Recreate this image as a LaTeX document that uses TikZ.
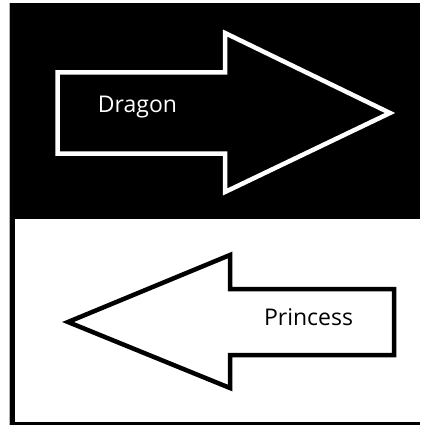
\documentclass[tikz,border=0pt]{standalone}
\usepackage{fontspec}
\setmainfont{Open Sans}
\begin{document}
\begin{tikzpicture}[x=1pt,y=-1pt,
  arrowline/.style={line width=4.5pt,line join=miter,miter limit=10},
  labeltext/.style={font=\fontsize{23}{27}\selectfont,inner sep=0pt,anchor=base}]
\useasboundingbox (0,0) rectangle (420,425);
\fill[white] (0,0) rectangle (420,425);
% frame
\fill[black] (9,3) rectangle (420,425);
\fill[white] (14.5,219) rectangle (420,421.5);
\draw[gray!60,line width=0.8pt] (9,3) -- (9,425);
% top arrow (white outline, pointing right)
\draw[arrowline,white] (57.5,72.5) -- (225,72.5) -- (225,33) -- (390,113)
  -- (225,192) -- (225,153.5) -- (57.5,153.5) -- cycle;
\node[labeltext,text=white] (dragon) at (137.5,112) {Dragon};
% bottom arrow (black outline, pointing left)
\draw[arrowline,black] (394,289) -- (230,289) -- (230,255) -- (68,322)
  -- (230,388) -- (230,355) -- (394,355) -- cycle;
\node[labeltext,text=black] (princess) at (308.5,325) {Princess};
\end{tikzpicture}
\end{document}
